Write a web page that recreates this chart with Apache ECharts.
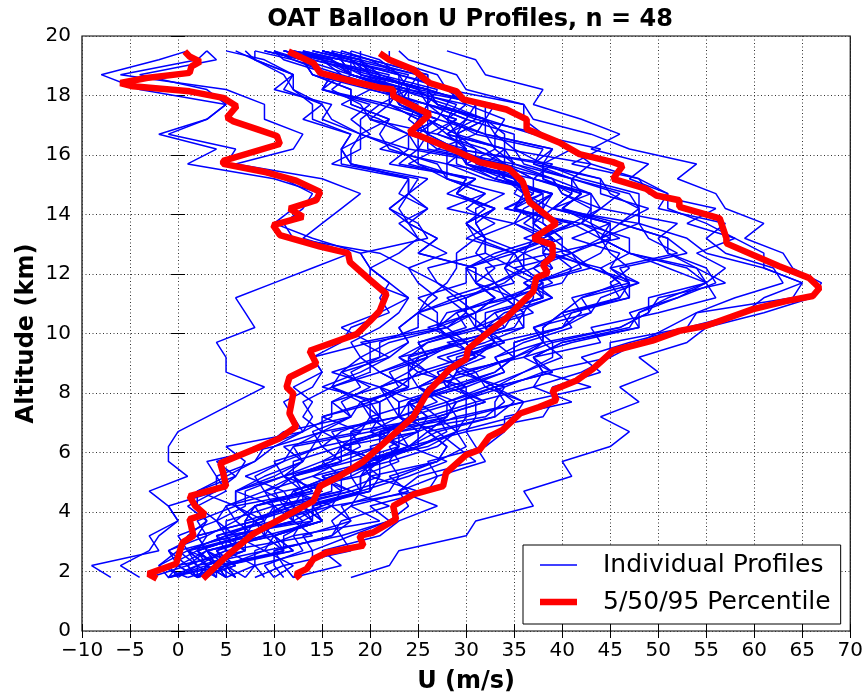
<!DOCTYPE html>
<html><head><meta charset="utf-8">
<script src="https://cdn.jsdelivr.net/npm/echarts@6/dist/echarts.min.js"></script>
<style>html,body{margin:0;padding:0;background:#fff}#c{width:866px;height:699px}</style>
</head><body><div id="c"></div>
<script>
// Altitude levels (km) shared by the individual profiles
const ALT = [1.8,2.2,2.7,3.2,3.7,4.2,4.7,5.2,5.7,6.2,6.7,7.2,7.7,8.2,8.7,9.2,9.7,10.2,10.7,11.2,11.7,12.2,12.7,13.2,13.7,14.2,14.7,15.2,15.7,16.2,16.7,17.2,17.7,18.2,18.7,19.2,19.5];

// Individual U profiles (m/s) at ALT levels
const P01 = [5,3,7,5,14,12,11,19,21,17,25,23,24,30,28,30,33,32,36,37,37,43,41,44,45,39,43,39,34,31,27,20,19,16,18,13,9];
const P02 = [-1,5,1,7,8,11,10,12,18,18,18,27,25,26,31,27,32,36,35,35,37,41,39,37,42,34,38,33,35,27,31,28,26,27,21,19,15];
const P03 = [6,5,11,9,15,14,19,19,20,24,27,23,28,25,28,32,28,36,36,34,38,35,32,32,31,31,34,28,25,25,24,27,23,22,18,17,12];
const P04 = [3,5,3,10,8,12,18,15,21,24,23,28,29,34,29,36,38,38,40,46,47,46,53,51,46,49,44,44,37,39,32,28,30,23,23,17,17];
const P05 = [-1,3,1,5,5,10,6,9,13,14,15,23,23,21,26,24,26,32,30,30,34,36,35,38,41,35,36,35,34,26,26,26,21,24,18,16,11];
const P06 = [9,8,14,13,18,17,22,23,22,27,29,27,32,29,33,35,33,40,42,41,47,43,40,40,38,38,39,33,29,29,26,29,24,24,18,17,13];
const P07 = [2,3,2,7,7,8,14,12,16,19,18,21,21,24,21,26,29,27,28,35,31,30,35,31,30,33,28,31,22,24,19,15,16,10,12,8,8];
const P08 = [5,4,6,5,13,11,12,17,20,17,22,21,19,25,24,25,30,28,31,35,33,37,39,46,43,40,42,41,36,35,35,30,31,26,26,20,17];
const P09 = [5,5,12,10,14,14,20,20,19,26,29,29,36,33,36,40,38,46,49,49,55,51,47,47,42,43,43,37,34,32,27,29,24,23,18,18,14];
const P10 = [-3,1,-1,3,2,6,2,5,8,9,11,18,19,16,21,19,22,28,25,26,28,29,29,31,35,28,32,28,28,21,24,25,22,23,18,16,11];
const P11 = [3,4,3,10,8,11,18,14,20,24,20,26,24,29,26,31,33,31,33,38,38,35,41,39,35,38,36,36,28,30,24,20,22,15,16,12,10];
const P12 = [4,2,5,4,10,10,9,14,17,15,22,24,24,28,29,30,34,32,34,39,37,42,41,45,45,39,41,41,35,33,32,27,28,23,24,17,13];
const P13 = [6,4,11,11,14,13,20,21,19,25,28,27,32,28,33,35,35,40,43,42,48,43,39,39,37,37,39,34,30,30,29,32,26,26,19,19,15];
const P14 = [0,2,0,6,4,5,11,7,11,15,14,18,16,21,16,21,24,23,25,29,27,24,28,25,23,26,24,24,16,19,19,19,21,15,16,11,10];
const P15 = [2,6,4,8,10,15,12,16,22,23,23,32,34,33,39,36,41,48,48,52,56,55,51,50,52,44,46,41,43,34,34,32,28,29,23,20,17];
const P16 = [10,9,13,12,21,18,19,24,28,24,30,31,31,37,38,37,44,43,50,56,55,57,54,58,55,51,51,48,43,41,38,31,31,26,26,20,16];
const P17 = [12,11,18,17,22,20,26,27,26,32,34,34,41,37,42,45,45,53,59,61,65,61,55,53,48,48,48,42,38,39,32,32,27,26,20,19,15];
const P18 = [2,3,1,8,6,8,13,11,15,18,15,18,17,20,17,22,24,23,25,30,27,26,32,32,31,33,29,30,24,27,25,25,26,21,21,14,13];
const P19 = [2,6,3,9,10,16,12,16,21,21,21,30,30,30,34,33,36,41,40,42,46,44,38,38,41,35,36,34,33,24,24,21,17,20,14,13,10];
const P20 = [5,4,12,10,15,13,19,20,19,24,26,24,29,25,28,31,30,35,36,34,40,41,44,45,42,44,43,37,34,34,29,30,26,26,19,18,14];
const P21 = [2,1,3,2,8,6,6,10,13,11,19,20,19,24,24,24,29,27,31,33,31,31,25,27,24,22,24,24,18,17,18,13,15,11,12,8,6];
const P22 = [2,4,2,7,7,8,15,11,17,21,21,28,28,33,30,35,38,38,40,47,46,44,47,44,41,44,40,39,32,34,28,26,26,20,21,15,13];
const P23 = [2,2,9,6,12,10,17,17,15,21,22,20,25,21,24,26,25,31,31,29,35,34,35,39,37,37,39,33,30,30,28,31,27,25,20,19,15];
const P24 = [8,11,10,16,17,22,18,23,27,28,26,33,35,33,39,37,40,47,48,51,55,53,47,44,48,39,41,38,38,29,29,26,23,24,18,17,12];
const P25 = [-1,-2,1,0,4,2,2,6,7,5,13,12,11,14,15,14,20,17,21,24,20,20,19,26,25,22,24,25,17,17,20,18,20,15,17,12,8];
const P26 = [4,4,3,9,9,10,17,15,21,23,21,25,24,30,25,30,33,32,32,38,37,34,36,32,30,33,29,31,23,25,25,25,26,20,20,14,12];
const P27 = [6,5,11,10,15,13,20,20,20,25,29,30,36,32,36,39,39,46,49,50,57,54,51,51,46,48,47,41,37,38,31,32,27,26,20,19,15];
const P28 = [-1,4,2,7,7,12,9,12,17,17,16,23,22,21,26,23,26,31,30,30,33,36,36,37,41,34,37,34,34,25,26,25,22,23,18,15,11];
const P29 = [2,0,3,2,8,6,6,11,13,12,20,23,23,28,29,29,34,31,35,39,36,39,36,40,38,35,37,37,30,29,26,24,25,21,22,15,11];
const P30 = [4,3,7,7,12,11,16,16,21,20,25,26,31,29,34,33,38,37,43,44,48,45,46,41,45,40,42,38,38,35,33,34,30,28,23,21,18];
const P31 = [7,5,9,10,15,14,19,19,23,22,25,23,27,25,30,28,33,32,37,35,39,37,41,36,40,35,38,34,33,29,29,28,29,24,23,17,16];
const P32 = [2,1,5,5,9,8,13,12,16,17,21,25,24,28,27,31,30,34,35,36,38,36,35,30,33,30,32,28,27,22,21,22,18,18,14,13,9];
const P33 = [11,10,10,16,18,16,25,20,27,28,26,28,29,33,30,35,39,37,41,47,47,45,52,49,48,48,45,44,38,41,38,36,36,28,27,22,22];
const P34 = [1,5,4,9,8,13,13,18,18,23,21,26,24,28,27,31,29,34,33,38,36,39,38,39,37,38,35,36,30,29,25,27,23,23,18,16,11];
const P35 = [-1,2,1,5,4,7,7,11,10,15,17,21,20,23,22,26,25,30,29,33,31,33,31,32,30,32,29,30,25,23,19,16,15,12,11,8,7];
const P36 = [5,8,8,12,13,16,17,21,21,25,25,29,28,32,31,35,35,40,41,46,45,47,45,44,43,43,40,39,35,34,28,30,26,25,21,18,14];
const P37 = [2,0,7,4,9,6,14,12,12,17,19,15,21,15,19,22,19,27,27,25,30,30,34,39,36,38,38,35,31,31,29,32,26,26,20,18,15];
const P38 = [12,14,14,18,22,24,23,25,31,29,27,33,33,34,38,37,40,48,47,52,55,54,47,44,46,40,42,37,39,29,29,26,23,24,19,16,12];
const P39 = [5,3,6,6,12,12,13,17,21,17,22,20,20,23,25,23,30,26,31,33,31,31,25,27,24,23,24,26,18,17,18,14,14,12,12,9,5];
const P40 = [10,12,9,17,16,18,24,22,27,30,29,35,36,43,38,45,48,51,54,64,65,61,61,58,53,56,49,48,41,44,37,32,33,25,25,19,19];
const P41 = [18,22,23,30,31,37,36,41,40,45,47,44,48,46,50,48,53,55,61,66,67,64,63,59,61,57,56,52,54,47,43,37,36,30,29,24,23];
const P42 = [-4,-6,-3,-2,0,-1,-3,1,-1,-1,0,3,6,9,5,5,4,8,7,6,10,14,18,13,15,17,19,15,6,12,13,9,9,5,-6,2,3];
const P43 = [1,-2,0,1,3,2,5,4,8,10,13,14,13,16,17,19,18,21,23,24,22,20,19,14,10,12,15,10,1,4,-2,3,5,-4,-8,-2,1];
const P44 = [-1,0,-1,2,3,1,4,6,4,9,13,16,16,19,18,21,21,25,25,27,25,24,21,12,11,13,14,11,5,6,-1,3,5,3,-4,4,3];
const P45 = [-7,-9,-2,-3,0,-1,4,4,3,10,15,15,20,16,20,20,20,28,30,28,33,30,33,38,35,36,39,32,28,28,24,27,22,22,17,15,11];
const P46 = [12,17,15,21,23,27,23,27,32,31,30,38,39,39,44,42,47,53,54,58,63,62,57,55,57,50,51,47,49,43,46,42,37,38,32,31,28];
const P47 = [0,-1,2,3,6,5,9,8,11,12,15,13,14,12,15,14,17,18,22,21,22,20,23,25,24,26,23,24,18,18,19,22,18,18,14,13,9];
const P48 = [7,8,5,14,12,15,19,18,21,23,20,21,21,24,21,25,29,27,29,34,33,32,39,37,37,39,36,35,30,33,33,32,32,24,25,18,18];
const PROFILES = [P01,P02,P03,P04,P05,P06,P07,P08,P09,P10,P11,P12,P13,P14,P15,P16,P17,P18,P19,P20,P21,P22,P23,P24,P25,P26,P27,P28,P29,P30,P31,P32,P33,P34,P35,P36,P37,P38,P39,P40,P41,P42,P43,P44,P45,P46,P47,P48];

// Percentile curves (altitude km, U m/s)
const PCT05_ALT = [1.76,1.92,2.26,2.7,2.98,3.2,3.76,3.92,4.2,4.53,4.87,5.31,5.64,6.09,6.48,6.87,7.31,7.98,8.2,8.53,8.98,9.42,9.98,10.42,10.76,11.33,11.8,12.4,12.7,12.92,13.31,13.64,13.92,14.2,14.48,14.76,15.14,15.42,15.7,15.8,16.37,16.64,16.87,17.14,17.26,17.64,17.92,18.14,18.31,18.42,18.59,18.76,18.98,19.14,19.31,19.48];
const PCT05_U   = [-2.2,-3.1,-0.2,0.2,0.5,1.6,1.2,2.8,1.8,1.2,5.0,4.7,4.4,7.8,10.6,12.3,11.6,12.0,11.3,11.6,14.4,13.7,18.6,20.0,21.0,21.7,20.0,17.9,17.7,14.8,10.6,9.9,13.0,11.6,14.4,14.8,12.3,9.2,4.7,4.7,10.6,10.3,8.2,5.7,5.1,6.1,4.7,1.2,-4.7,-6.0,-3.3,1.2,1.4,2.3,1.2,0.7];
const PCT50_ALT = [1.76,2.53,3.26,3.7,4.37,4.87,5.2,5.7,6.48,7.2,8.03,8.81,9.14,9.48,9.98,10.53,10.98,11.42,11.87,12.03,12.31,12.59,12.98,13.2,13.7,14.42,15.09,15.53,15.76,16.09,16.64,16.76,17.37,17.64,17.98,18.2,18.26,18.53,18.76,19.09,19.48];
const PCT50_U   = [2.6,5.1,7.8,10.3,14.1,14.8,16.8,19.3,22.0,24.5,26.0,28.3,30.0,30.2,32.1,34.2,35.6,37.0,37.3,38.5,38.0,39.0,39.0,37.0,39.4,36.6,35.9,34.5,31.4,29.3,25.2,24.1,26.2,24.5,22.4,22.4,21.0,17.5,14.8,14.1,11.5];
const PCT95_ALT = [1.76,1.92,2.09,2.42,2.64,2.87,3.2,3.31,3.76,4.2,4.59,4.87,5.31,5.92,6.09,6.53,6.76,7.31,7.53,7.76,8.09,8.42,8.81,9.42,9.76,10.09,10.26,10.81,11.09,11.26,11.53,11.87,12.26,13.03,13.2,13.87,14.26,14.48,14.64,14.87,15.2,15.64,15.76,16.03,16.42,16.87,17.2,17.53,17.87,18.14,18.42,18.87,19.2,19.42];
const PCT95_U   = [12.7,12.3,13.4,14.1,15.5,19.3,18.9,20.3,22.7,22.4,24.5,27.6,27.9,30.0,31.4,32.4,33.8,35.6,37.6,39.4,39.0,41.5,43.2,45.3,49.4,52.2,55.0,59.8,63.3,66.1,66.8,65.7,62.6,57.1,57.1,56.4,52.2,52.2,49.8,48.7,45.3,46.3,45.3,41.8,39.7,36.3,36.3,34.2,29.7,29.0,26.2,24.5,22.0,21.0];

const FONT = 'DejaVu Sans';
const chart = echarts.init(document.getElementById('c'), null, {renderer: 'canvas'});

const pairs = (alts, us) => us.map((u, i) => [u, alts[i]]);
const series = [];
PROFILES.forEach(p => {
  series.push({
    name: 'Individual Profiles', type: 'line', data: pairs(ALT, p),
    symbol: 'none', smooth: false, silent: true, z: 2,
    lineStyle: {color: '#0000ff', width: 1.5}, itemStyle: {color: '#0000ff'}
  });
});
[[PCT05_ALT, PCT05_U], [PCT50_ALT, PCT50_U], [PCT95_ALT, PCT95_U]].forEach(([a, u]) => {
  series.push({
    name: '5/50/95 Percentile', type: 'line', data: pairs(a, u),
    symbol: 'none', smooth: false, silent: true, z: 5,
    lineStyle: {color: '#ff0000', width: 6.5}, itemStyle: {color: '#ff0000'}
  });
});

const minus = v => String(v).replace('-', '\u2212');
const tickCommon = {inside: true, length: 7, lineStyle: {color: '#000', width: 1}};
const gridLine = {show: true, lineStyle: {color: '#333', type: [1, 2.5], width: 1}};

chart.setOption({
  animation: false,
  backgroundColor: '#fff',
  textStyle: {fontFamily: FONT},
  title: {
    text: 'OAT Balloon U Profiles, n = 48', left: 465, top: 3, textAlign: 'center',
    textStyle: {fontFamily: FONT, fontWeight: 'bold', fontSize: 24, color: '#000'}
  },
  grid: {left: 82, right: 14, top: 36, bottom: 63, show: true, borderColor: '#000', borderWidth: 1.2, backgroundColor: 'transparent'},
  legend: {
    left: 523, top: 545, orient: 'vertical',
    data: [
      {name: 'Individual Profiles', icon: 'path://M0,0H40V1.6H0Z'},
      {name: '5/50/95 Percentile', icon: 'path://M0,0H40V7H0Z'}
    ],
    backgroundColor: '#fff', borderColor: '#000', borderWidth: 1, borderRadius: 0,
    padding: [6, 10, 8, 17], itemGap: 9, itemWidth: 37, itemHeight: 14,
    textStyle: {fontFamily: FONT, fontSize: 25, color: '#000', lineHeight: 28, padding: [0, 0, 0, 21]}
  },
  xAxis: [{
    type: 'value', min: -10, max: 70, interval: 5,
    axisLine: {show: false}, axisTick: tickCommon,
    axisLabel: {color: '#000', fontFamily: FONT, fontSize: 20, margin: 10, formatter: minus},
    splitLine: gridLine,
    name: 'U (m/s)', nameLocation: 'middle', nameGap: 39, nameMoveOverlap: false,
    nameTextStyle: {fontFamily: FONT, fontWeight: 'bold', fontSize: 24, color: '#000'}
  }, {
    type: 'value', position: 'top', min: -10, max: 70, interval: 5,
    axisLine: {show: false}, axisTick: tickCommon, axisLabel: {show: false}, splitLine: {show: false}
  }],
  yAxis: [{
    type: 'value', min: 0, max: 20, interval: 2,
    axisLine: {show: false}, axisTick: tickCommon,
    axisLabel: {color: '#000', fontFamily: FONT, fontSize: 20, margin: 11},
    splitLine: gridLine,
    name: 'Altitude (km)', nameLocation: 'middle', nameGap: 43, nameRotate: 90, nameMoveOverlap: false,
    nameTextStyle: {fontFamily: FONT, fontWeight: 'bold', fontSize: 24, color: '#000'}
  }, {
    type: 'value', position: 'right', min: 0, max: 20, interval: 2,
    axisLine: {show: false}, axisTick: tickCommon, axisLabel: {show: false}, splitLine: {show: false}
  }],
  series: series
});
</script></body></html>
